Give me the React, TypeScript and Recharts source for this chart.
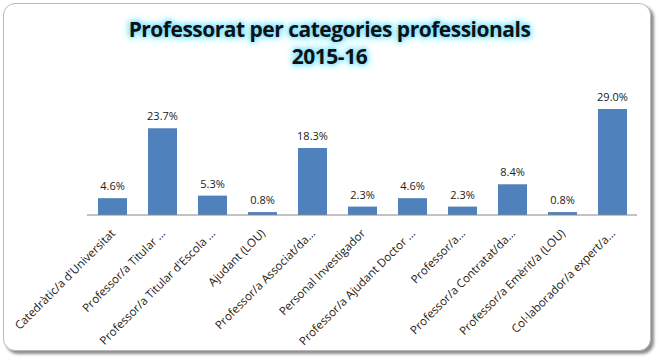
import React from "react"
import { BarChart, Bar, XAxis, YAxis, LabelList } from "recharts"

const categories = [
  "Catedràtic/a d'Universitat",
  "Professor/a Titular ...",
  "Professor/a Titular d'Escola ...",
  "Ajudant (LOU)",
  "Professor/a Associat/da...",
  "Personal Investigador",
  "Professor/a Ajudant Doctor ...",
  "Professor/a...",
  "Professor/a Contratat/da...",
  "Professor/a Emèrit/a (LOU)",
  "Col·laborador/a expert/a...",
]
const percents = [4.6, 23.7, 5.3, 0.8, 18.3, 2.3, 4.6, 2.3, 8.4, 0.8, 29.0]

const data = categories.map((name, i) => ({ name, value: percents[i] }))

const FONT = "'Open Sans', 'DejaVu Sans', sans-serif"

// etiqueta de l'eix X girada -45°
function RotatedTick(props: any) {
  const { x, y, payload } = props
  return (
    <g transform={`translate(${x + 4},${y + 11})`}>
      <text
        transform="rotate(-45)"
        textAnchor="end"
        fontFamily={FONT}
        fontSize={11.5}
        fill="#1a1a1a"
      >
        {payload.value}
      </text>
    </g>
  )
}

export default function App() {
  return (
    <div
      style={{
        position: "absolute",
        left: 0,
        top: 0,
        width: 659,
        height: 360,
        background: "#ffffff",
      }}
    >
      {/* marc amb ombra */}
      <div
        style={{
          position: "absolute",
          left: 3,
          top: 3,
          width: 646,
          height: 346,
          borderRadius: 12,
          border: "1px solid #b8b8b8",
          boxShadow: "3px 3px 3px rgba(0,0,0,0.45)",
          background: "#ffffff",
        }}
      />
      <div
        style={{
          position: "absolute",
          left: 0,
          top: 16,
          width: 659,
          textAlign: "center",
          fontFamily: FONT,
          fontWeight: 700,
          fontSize: 21,
          lineHeight: "27px",
          color: "#111",
          textShadow:
            "0 0 4px #6fdcff, 0 0 7px #7fe3ff, 0 0 9px #a8eeff, 0 0 12px #c4f4ff",
          letterSpacing: -0.5,
        }}
      >
        Professorat per categories professionals
        <br />
        2015-16
      </div>
      <div style={{ position: "absolute", left: 0, top: 0 }}>
        <BarChart
          width={659}
          height={360}
          data={data}
          margin={{ top: 87, right: 22, left: 87, bottom: 0 }}
          barSize={29}
        >
          <YAxis hide domain={[0, 35]} />
          <XAxis
            dataKey="name"
            height={145}
            interval={0}
            tickLine={false}
            axisLine={{ stroke: "#868686", strokeWidth: 1 }}
            tick={<RotatedTick />}
          />
          <Bar dataKey="value" fill="#4f81bd" isAnimationActive={false}>
            <LabelList
              dataKey="value"
              position="top"
              offset={8}
              formatter={(v: any) => `${Number(v).toFixed(1)}%`}
              style={{ fontFamily: FONT, fontSize: 11, fill: "#1a1a1a" }}
            />
          </Bar>
        </BarChart>
      </div>
    </div>
  )
}
